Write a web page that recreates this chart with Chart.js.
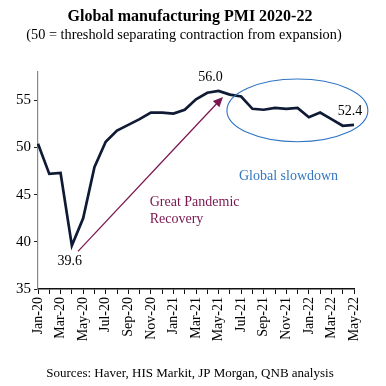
<!DOCTYPE html>
<html>
<head>
<meta charset="utf-8">
<script src="https://cdn.jsdelivr.net/npm/chart.js@4"></script>
<style>
  html, body { margin: 0; padding: 0; background: #fff; }
  #wrap { width: 386px; height: 386px; position: relative; }
</style>
</head>
<body>
<div id="wrap"><canvas id="pmiChart" width="386" height="386"></canvas></div>
<script>
const months = ['Jan-20', 'Feb-20', 'Mar-20', 'Apr-20', 'May-20', 'Jun-20', 'Jul-20', 'Aug-20', 'Sep-20', 'Oct-20', 'Nov-20', 'Dec-20',
    'Jan-21', 'Feb-21', 'Mar-21', 'Apr-21', 'May-21', 'Jun-21', 'Jul-21', 'Aug-21', 'Sep-21', 'Oct-21', 'Nov-21', 'Dec-21',
    'Jan-22', 'Feb-22', 'Mar-22', 'Apr-22', 'May-22'];

const pmiValues = [50.4, 47.2, 47.3, 39.6, 42.5, 47.9, 50.6, 51.8, 52.4, 53.0, 53.7, 53.7,
    53.6, 54.0, 55.1, 55.8, 56.0, 55.6, 55.4, 54.1, 54.0, 54.2, 54.1, 54.2,
    53.2, 53.7, 53.0, 52.3, 52.4];

const yTicks = [35, 40, 45, 50, 55];

const serif = "'Liberation Serif', 'Times New Roman', serif";

// annotations: titles, labels, ellipse and arrow
const annotate = {
    id: 'annotate',
    afterDraw(chart) {
        const ctx = chart.ctx;
        const x = chart.scales.x, y = chart.scales.y;
        ctx.save();
        ctx.textAlign = 'center';
        ctx.textBaseline = 'middle';
        ctx.fillStyle = '#000';
        ctx.font = 'bold 16px ' + serif;
        ctx.fillText('Global manufacturing PMI 2020-22', 190, 17);
        ctx.font = '14.3px ' + serif;
        ctx.fillText('(50 = threshold separating contraction from expansion)', 184, 35);
        ctx.font = '13px ' + serif;
        ctx.fillText('Sources: Haver, HIS Markit, JP Morgan, QNB analysis', 190, 374);

        // value labels
        ctx.font = '14px ' + serif;
        const lab = (i, dx, dy) => ctx.fillText(pmiValues[i].toFixed(1), x.getPixelForValue(i) + dx, y.getPixelForValue(pmiValues[i]) + dy);
        lab(3, -2, 16);
        lab(16, -8, -14);
        lab(28, -4, -14);

        // slowdown ellipse
        const l = x.getPixelForValue(16.74), r = x.getPixelForValue(29.23);
        const t = y.getPixelForValue(57.26), b = y.getPixelForValue(50.6);
        ctx.strokeStyle = '#2f74c4';
        ctx.lineWidth = 1.1;
        ctx.beginPath();
        ctx.ellipse((l + r) / 2, (t + b) / 2, (r - l) / 2, (b - t) / 2, 0, 0, Math.PI * 2);
        ctx.stroke();
        ctx.fillStyle = '#3377c0';
        ctx.font = '14px ' + serif;
        ctx.fillText('Global slowdown', x.getPixelForValue(22.2), y.getPixelForValue(46.9));

        // recovery arrow
        const x0 = x.getPixelForValue(3.54), y0 = y.getPixelForValue(38.99);
        const x1 = x.getPixelForValue(16.39), y1 = y.getPixelForValue(55.36);
        const ang = Math.atan2(y1 - y0, x1 - x0);
        ctx.strokeStyle = '#7a1650';
        ctx.fillStyle = '#7a1650';
        ctx.lineWidth = 1.3;
        ctx.beginPath();
        ctx.moveTo(x0, y0);
        ctx.lineTo(x1 - 7 * Math.cos(ang), y1 - 7 * Math.sin(ang));
        ctx.stroke();
        ctx.beginPath();
        ctx.moveTo(x1, y1);
        ctx.lineTo(x1 - 10 * Math.cos(ang) + 4.5 * Math.sin(ang), y1 - 10 * Math.sin(ang) - 4.5 * Math.cos(ang));
        ctx.lineTo(x1 - 10 * Math.cos(ang) - 4.5 * Math.sin(ang), y1 - 10 * Math.sin(ang) + 4.5 * Math.cos(ang));
        ctx.closePath();
        ctx.fill();
        ctx.textAlign = 'left';
        ctx.fillText('Great Pandemic', x.getPixelForValue(9.9), y.getPixelForValue(44.2));
        ctx.fillText('Recovery', x.getPixelForValue(9.9), y.getPixelForValue(42.4));
        ctx.restore();
    }
};

new Chart(document.getElementById('pmiChart'), {
    type: 'line',
    data: {
        labels: months,
        datasets: [{
            data: pmiValues,
            borderColor: '#0f1a35',
            borderWidth: 2.7,
            pointRadius: 0,
            tension: 0,
            fill: false
        }]
    },
    options: {
        responsive: false,
        animation: false,
        events: [],
        layout: { padding: { left: 0, right: 32, top: 72, bottom: 41 } },
        plugins: { legend: { display: false }, tooltip: { enabled: false } },
        scales: {
            x: {
                afterFit(scale) { scale.height = 56; },
                border: { display: true, color: '#111', width: 1.5 },
                grid: { display: true, drawOnChartArea: false, drawTicks: true, tickLength: 5, color: '#111', lineWidth: 1 },
                ticks: {
                    autoSkip: false,
                    maxRotation: 90,
                    minRotation: 90,
                    color: '#000',
                    padding: 3,
                    font: { family: serif, size: 14 },
                    callback: (v, i) => (i % 2 === 0 ? months[i] : '')
                }
            },
            y: {
                min: 35,
                max: 58,
                afterFit(scale) { scale.width = 38; },
                afterBuildTicks(scale) { scale.ticks = yTicks.map(v => ({ value: v })); },
                border: { display: true, color: '#888', width: 1.2 },
                grid: { display: true, drawOnChartArea: false, drawTicks: true, tickLength: 4, color: '#222', lineWidth: 1 },
                ticks: {
                    color: '#000',
                    padding: 3,
                    font: { family: serif, size: 15 }
                }
            }
        }
    },
    plugins: [annotate]
});
</script>
</body>
</html>
